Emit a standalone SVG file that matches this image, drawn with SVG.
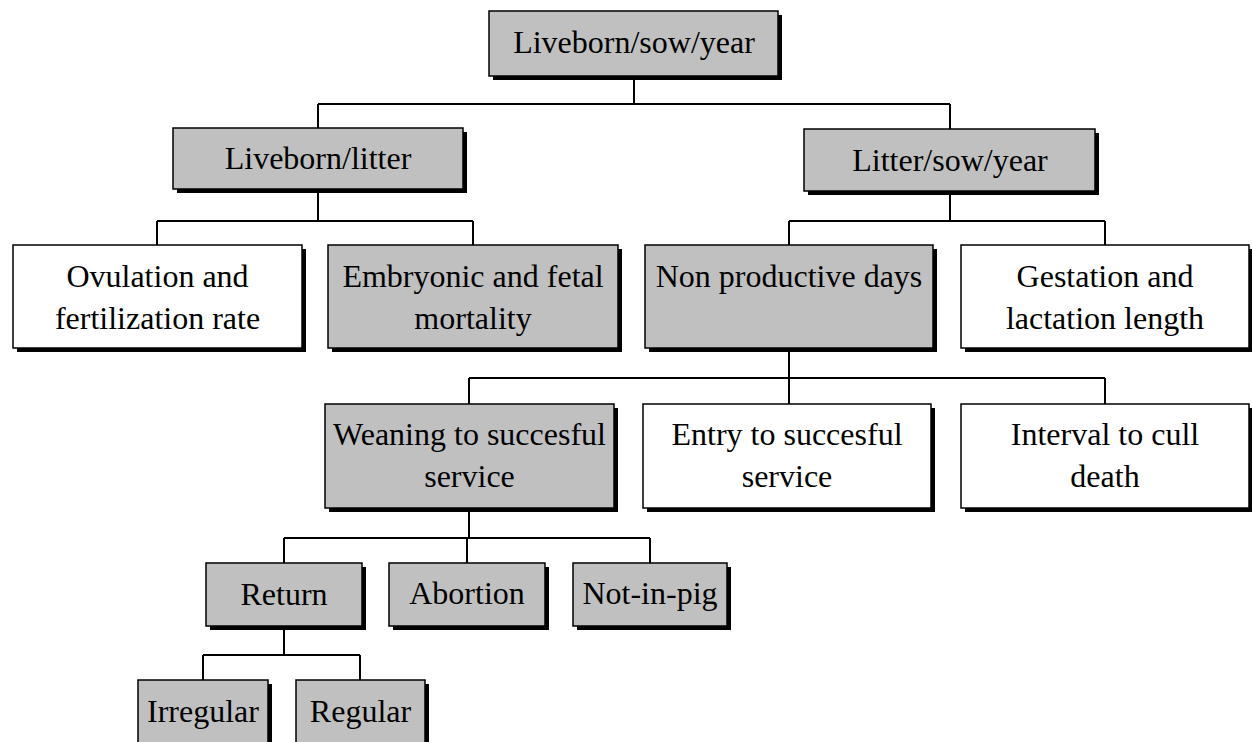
<svg xmlns="http://www.w3.org/2000/svg" width="1252" height="742" viewBox="0 0 1252 742">
<style>
.sh{fill:#000}
.g{fill:#c0c0c0;stroke:#000;stroke-width:1.5}
.w{fill:#fff;stroke:#000;stroke-width:1.5}
text{font-family:"Liberation Serif","Times New Roman",serif;font-size:32px;fill:#000;text-anchor:middle}
.c{fill:none;stroke:#000;stroke-width:2}
</style>
<rect width="1252" height="742" fill="#fff"/>
<g id="connectors" class="c">
<path d="M634 77V104M318 104H950M318 104V128M950 104V129"/>
<path d="M318 189V221M157 221H473M157 221V245M473 221V245"/>
<path d="M950 191V221M789 221H1105M789 221V245M1105 221V245"/>
<path d="M789 348V378M469 378H1105M469 378V404M789 378V404M1105 378V404"/>
<path d="M469 508V538M284 538H650M284 538V563M467 538V563M650 538V563"/>
<path d="M284 626V655M203 655H360M203 655V680M360 655V680"/>
</g>
<g id="n1"><rect class="sh" x="493" y="15" width="289" height="65"/><rect class="g" x="489" y="11" width="289" height="65"/><text x="634" y="53">Liveborn/sow/year</text></g>
<g id="n2"><rect class="sh" x="177" y="132" width="290" height="61"/><rect class="g" x="173" y="128" width="290" height="61"/><text x="318" y="169">Liveborn/litter</text></g>
<g id="n3"><rect class="sh" x="808" y="133" width="291" height="62"/><rect class="g" x="804" y="129" width="291" height="62"/><text x="950" y="171">Litter/sow/year</text></g>
<g id="n4"><rect class="sh" x="17" y="249" width="289" height="103"/><rect class="w" x="13" y="245" width="289" height="103"/><text x="157.5" y="287">Ovulation and</text><text x="157.5" y="329">fertilization rate</text></g>
<g id="n5"><rect class="sh" x="332" y="249" width="290" height="103"/><rect class="g" x="328" y="245" width="290" height="103"/><text x="473" y="287">Embryonic and fetal</text><text x="473" y="329">mortality</text></g>
<g id="n6"><rect class="sh" x="649" y="249" width="288" height="103"/><rect class="g" x="645" y="245" width="288" height="103"/><text x="789" y="287">Non productive days</text></g>
<g id="n7"><rect class="sh" x="965" y="249" width="288" height="103"/><rect class="w" x="961" y="245" width="288" height="103"/><text x="1105" y="287">Gestation and</text><text x="1105" y="329">lactation length</text></g>
<g id="n8"><rect class="sh" x="329" y="408" width="289" height="104"/><rect class="g" x="325" y="404" width="289" height="104"/><text x="469.5" y="445">Weaning to succesful</text><text x="469.5" y="487">service</text></g>
<g id="n9"><rect class="sh" x="647" y="408" width="288" height="104"/><rect class="w" x="643" y="404" width="288" height="104"/><text x="787" y="445">Entry to succesful</text><text x="787" y="487">service</text></g>
<g id="n10"><rect class="sh" x="965" y="408" width="288" height="104"/><rect class="w" x="961" y="404" width="288" height="104"/><text x="1105" y="445">Interval to cull</text><text x="1105" y="487">death</text></g>
<g id="n11"><rect class="sh" x="210" y="567" width="156" height="63"/><rect class="g" x="206" y="563" width="156" height="63"/><text x="284" y="605">Return</text></g>
<g id="n12"><rect class="sh" x="393" y="567" width="156" height="63"/><rect class="g" x="389" y="563" width="156" height="63"/><text x="467" y="604">Abortion</text></g>
<g id="n13"><rect class="sh" x="577" y="567" width="154" height="63"/><rect class="g" x="573" y="563" width="154" height="63"/><text x="650" y="604">Not-in-pig</text></g>
<g id="n14"><rect class="sh" x="142" y="684" width="130" height="80"/><rect class="g" x="138" y="680" width="130" height="80"/><text x="203" y="722">Irregular</text></g>
<g id="n15"><rect class="sh" x="300" y="684" width="129" height="80"/><rect class="g" x="296" y="680" width="129" height="80"/><text x="360.5" y="722">Regular</text></g>
</svg>
